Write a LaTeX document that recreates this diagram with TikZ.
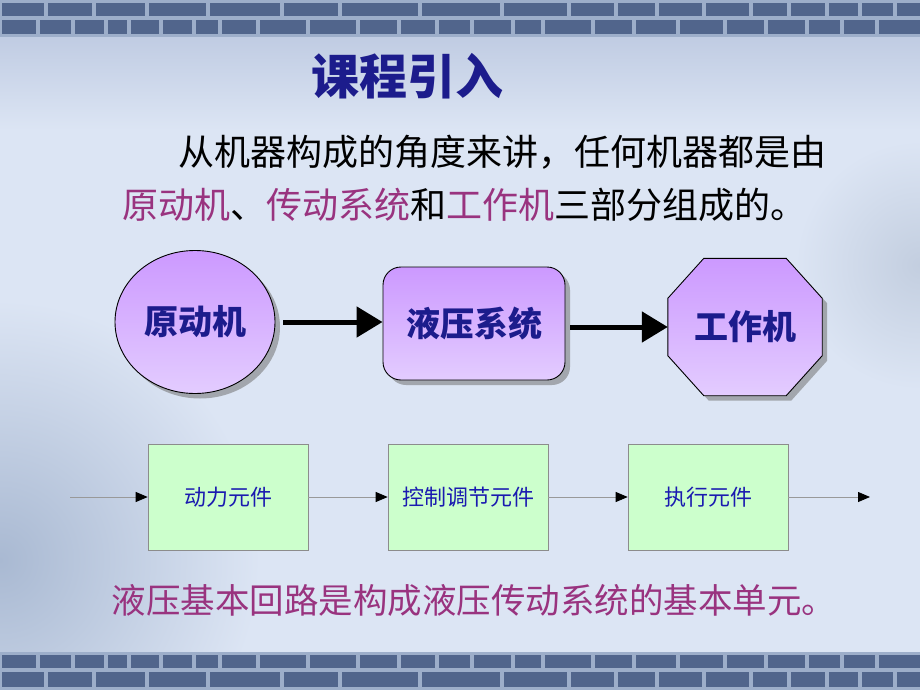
\documentclass[tikz,border=0pt]{standalone}
\usepackage{fontspec}
\setmainfont{Noto Sans CJK SC}
\newfontfamily\cjk{Noto Sans CJK SC}
\usetikzlibrary{shapes.geometric,arrows.meta,shadows,calc}
\definecolor{bgc}{HTML}{DCE5F4}
\definecolor{bgtop}{HTML}{BFCBE2}
\definecolor{bgdark}{HTML}{A9B9D2}
\definecolor{mortar}{HTML}{9DAECA}
\definecolor{brickc}{HTML}{51658C}
\definecolor{navy}{HTML}{1C1C8C}
\definecolor{txtblue}{HTML}{1A1AB0}
\definecolor{magen}{HTML}{99337F}
\definecolor{purtop}{HTML}{CC99FF}
\definecolor{purbot}{HTML}{E3CCFF}
\definecolor{greenbox}{HTML}{CCFFCC}
\tikzset{
  brick/.style={fill=brickc},
  bigshape/.style={draw=black, line width=0.9pt, top color=purtop, bottom color=purbot,
    drop shadow={shadow xshift=5pt, shadow yshift=-5pt, fill=black!55, opacity=0.55}},
  shapetext/.style={text=navy, font=\fontsize{34}{38}\selectfont\bfseries},
  bigarrow/.style={line width=5pt, -{Triangle[length=26pt,width=30pt]}},
  greenstep/.style={draw=black!45, line width=0.6pt, fill=greenbox, minimum width=160pt,
    minimum height=106pt, inner sep=0pt, text=txtblue, font=\fontsize{22}{26}\selectfont},
  thinarrow/.style={draw=black!40, line width=0.8pt, -{Triangle[length=12pt,width=10pt,fill=black,color=black]}}
}
\begin{document}
\begin{tikzpicture}[x=1pt,y=-1pt]
\useasboundingbox (0,0) rectangle (920,690);
% background
\fill[bgc] (0,0) rectangle (920,690);
\shade[inner color=bgdark, outer color=bgc] (0,560) circle (260);
\shade[inner color=bgdark!70!white, outer color=bgc] (920,265) circle (125);
\shade[top color=bgtop, bottom color=bgc] (0,34) rectangle (920,130);
% top brick band
\fill[mortar] (0,0) rectangle (920,37);
\foreach \a/\b in {0/46,46/94,94/147,147/208,208/282,282/340,340/420,420/502,502/569,569/616,616/657,657/704,704/751,751/789,789/827,827/860,860/895,895/925}
  {\fill[brick] (\a+2,3) rectangle (\b-2,16);}
\foreach \a/\b in {0/38,38/73,73/106,106/129,129/161,161/194,194/220,220/258,258/308,308/358,358/399,399/437,437/472,472/513,513/543,543/593,593/634,634/678,678/725,725/766,766/807,807/842,842/877,877/925}
  {\fill[brick] (\a+2,20) rectangle (\b-2,34);}
% bottom brick band
\fill[mortar] (0,652) rectangle (920,690);
\foreach \a/\b in {0/38,38/73,73/106,106/129,129/161,161/194,194/220,220/258,258/308,308/358,358/399,399/437,437/472,472/513,513/543,543/593,593/634,634/678,678/725,725/766,766/807,807/842,842/877,877/925}
  {\fill[brick] (\a+2,655) rectangle (\b-2,668);}
\foreach \a/\b in {0/46,46/94,94/147,147/208,208/282,282/340,340/420,420/502,502/569,569/616,616/657,657/704,704/751,751/789,789/827,827/860,860/895,895/925}
  {\fill[brick] (\a+2,672) rectangle (\b-2,687);}
% title
\node[text=navy, font=\fontsize{48}{52}\selectfont\bfseries] (title) at (407,76) {课程引入};
% paragraph
\node[anchor=west, inner sep=0pt, font=\fontsize{36}{40}\selectfont] (p1) at (178,152) {从机器构成的角度来讲，任何机器都是由};
\node[anchor=west, inner sep=0pt, font=\fontsize{36}{40}\selectfont] (p2) at (122,205)
  {\textcolor{magen}{原动机}、\textcolor{magen}{传动系统}和\textcolor{magen}{工作机}三部分组成的。};
% big shapes
\node[ellipse, bigshape, minimum width=160pt, minimum height=143pt, inner sep=0pt, shapetext] (prime) at (195,322) {原动机};
\node[rectangle, rounded corners=18pt, bigshape, minimum width=182pt, minimum height=113pt, inner sep=0pt, shapetext] (hyd) at (474,323.5) {液压系统};
\node[minimum width=154pt, minimum height=137pt, inner sep=0pt] (work) at (745,327) {};
\path[bigshape] ($(work.north west)+(36,0)$) -- ($(work.north east)+(-36,0)$) -- ($(work.north east)+(0,40)$)
  -- ($(work.south east)+(0,-40)$) -- ($(work.south east)+(-36,0)$) -- ($(work.south west)+(36,0)$)
  -- ($(work.south west)+(0,-40)$) -- ($(work.north west)+(0,40)$) -- cycle;
\node[shapetext] (worktext) at (work.center) {工作机};
\draw[bigarrow, shorten <=8pt] (prime.east) -- (prime.east -| hyd.west);
\draw[bigarrow, shorten <=5pt] (hyd.east |- work.west) -- (work.west);
% component chain
\node[greenstep] (b1) at (228,497) {动力元件};
\node[greenstep] (b2) at (468,497) {控制调节元件};
\node[greenstep] (b3) at (708,497) {执行元件};
\coordinate (cin) at (70,497);
\coordinate (cout) at (870,497);
\draw[thinarrow] (cin) -- (b1.west);
\draw[thinarrow] (b1.east) -- (b2.west);
\draw[thinarrow] (b2.east) -- (b3.west);
\draw[thinarrow] (b3.east) -- (cout);
% closing sentence
\node[text=magen, font=\fontsize{34.5}{38}\selectfont] (concl) at (474,600) {液压基本回路是构成液压传动系统的基本单元。};
\end{tikzpicture}
\end{document}
